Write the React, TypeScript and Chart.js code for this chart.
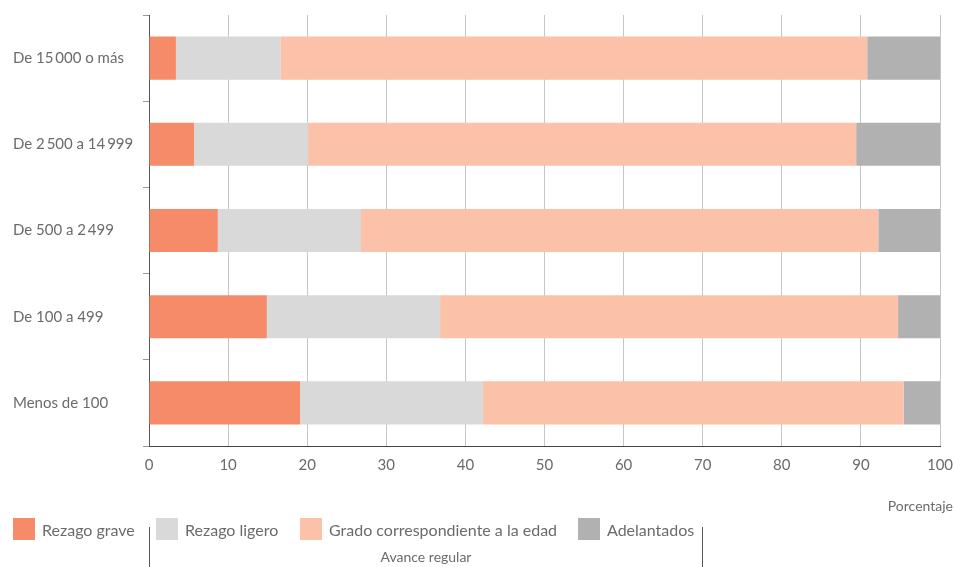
import React, { useEffect, useRef } from "react";
import { Chart, registerables } from "chart.js";

Chart.register(...registerables);

const categories = [
  "De 15\u2009000 o más",
  "De 2\u2009500 a 14\u2009999",
  "De 500 a 2\u2009499",
  "De 100 a 499",
  "Menos de 100",
];

const seriesNames = [
  "Rezago grave",
  "Rezago ligero",
  "Grado correspondiente a la edad",
  "Adelantados",
];
const seriesColors = ["#F58B69", "#D9D9D9", "#FBC1A9", "#B1B1B1"];

const rezagoGrave = [3.4, 5.7, 8.7, 14.9, 19.1];
const rezagoLigero = [13.2, 14.4, 18.1, 21.9, 23.1];
const gradoCorrespondiente = [74.2, 69.3, 65.4, 57.9, 53.2];
const adelantados = [9.2, 10.6, 7.8, 5.3, 4.6];

const xTicks = [0, 10, 20, 30, 40, 50, 60, 70, 80, 90, 100];

const FONT = "Lato, 'Open Sans', sans-serif";
const TEXT = "#6b6b6b";

export default function App() {
  const ref = useRef<HTMLCanvasElement | null>(null);

  useEffect(() => {
    if (!ref.current) return;
    const values = [rezagoGrave, rezagoLigero, gradoCorrespondiente, adelantados];
    const chart = new Chart(ref.current, {
      type: "bar",
      data: {
        labels: categories,
        datasets: values.map((v, i) => ({
          label: seriesNames[i],
          data: v,
          backgroundColor: seriesColors[i],
          borderWidth: 0,
          categoryPercentage: 1,
          barPercentage: 0.5,
        })),
      },
      options: {
        indexAxis: "y",
        animation: false,
        responsive: false,
        layout: { padding: { left: 13, top: 15, right: 14, bottom: 0 } },
        plugins: {
          legend: { display: false },
          tooltip: { enabled: false },
        },
        scales: {
          x: {
            stacked: true,
            min: 0,
            max: 100,
            afterBuildTicks: (s: any) => {
              s.ticks = xTicks.map((v) => ({ value: v }));
            },
            afterFit: (s: any) => {
              s.height = 121;
              s.paddingRight = 0;
              s.paddingLeft = 0;
            },
            grid: { color: "#c6c6c6", lineWidth: 1, drawTicks: false },
            border: { color: "#444", width: 1 },
            ticks: {
              padding: 10,
              color: TEXT,
              font: { family: FONT, size: 15 },
            },
          },
          y: {
            stacked: true,
            afterFit: (s: any) => {
              s.width = 136;
            },
            grid: {
              offset: true,
              drawOnChartArea: false,
              drawTicks: true,
              tickLength: 6,
              color: "#999",
            },
            border: { color: "#555", width: 1 },
            ticks: {
              crossAlign: "far",
              color: TEXT,
              font: { family: FONT, size: 15 },
            },
          },
        },
      },
    });
    return () => chart.destroy();
  }, []);

  const boxX = [13, 156, 300, 578];

  return (
    <div
      style={{
        position: "fixed",
        left: 0,
        top: 0,
        width: 954,
        height: 567,
        background: "#fff",
        fontFamily: FONT,
        color: TEXT,
      }}
    >
      <canvas ref={ref} width={954} height={567} style={{ display: "block" }} />
      <div
        style={{
          position: "absolute",
          right: 1,
          top: 497,
          fontSize: 14,
          lineHeight: "18px",
        }}
      >
        Porcentaje
      </div>
      {seriesNames.map((n, i) => (
        <div
          key={n}
          style={{
            position: "absolute",
            left: boxX[i],
            top: 518,
            height: 22,
            display: "flex",
            alignItems: "center",
            whiteSpace: "nowrap",
          }}
        >
          <span
            style={{
              display: "inline-block",
              width: 22,
              height: 22,
              background: seriesColors[i],
              marginRight: 7,
            }}
          />
          <span style={{ fontSize: 16 }}>{n}</span>
        </div>
      ))}
      <div
        style={{
          position: "absolute",
          left: 149,
          top: 527,
          width: 1,
          height: 40,
          background: "#555",
        }}
      />
      <div
        style={{
          position: "absolute",
          left: 702,
          top: 527,
          width: 1,
          height: 40,
          background: "#555",
        }}
      />
      <div
        style={{
          position: "absolute",
          left: 150,
          width: 552,
          top: 548,
          textAlign: "center",
          fontSize: 14,
          lineHeight: "18px",
        }}
      >
        Avance regular
      </div>
    </div>
  );
}
